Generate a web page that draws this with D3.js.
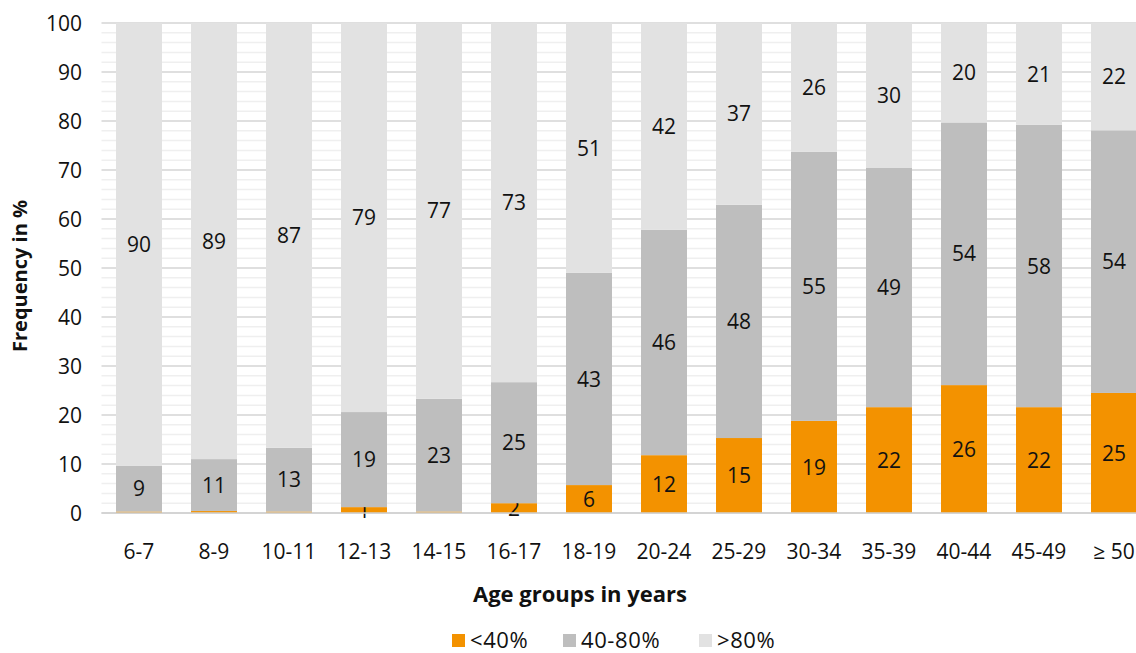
<!DOCTYPE html>
<html>
<head>
<meta charset="utf-8">
<title>Frequency by age group</title>
<script src="https://d3js.org/d3.v7.min.js"></script>
<style>
  body { margin: 0; background: #fff; }
  text { font-family: "Open Sans", "Noto Sans", sans-serif; fill: #111; }
</style>
</head>
<body>
<div id="chart"></div>
<script>
// categories (age groups)
var ageGroups = ["6-7", "8-9", "10-11", "12-13", "14-15", "16-17", "18-19",
                 "20-24", "25-29", "30-34", "35-39", "40-44", "45-49", "\u2265 50"];

// series values in %
var below40 = [0.3, 0.4, 0.3, 1.2, 0.3, 2.0, 5.7, 11.8, 15.3, 18.8, 21.6, 26.1, 21.6, 24.5];
var mid40to80 = [9.3, 10.6, 13.0, 19.4, 23.0, 24.7, 43.3, 46.0, 47.6, 54.9, 48.9, 53.6, 57.6, 53.6];
var above80 = [90.4, 89.0, 86.7, 79.4, 76.7, 73.3, 51.0, 42.2, 37.1, 26.3, 29.5, 20.3, 20.8, 21.9];

var seriesNames = ["<40%", "40-80%", ">80%"];
var seriesColors = ["#f39200", "#bebebe", "#e2e2e2"];
var yTicks = [0, 10, 20, 30, 40, 50, 60, 70, 80, 90, 100];

var width = 1136, height = 653;
var x0 = 101.5, step = 75;

var svg = d3.select("#chart").append("svg")
    .attr("width", width)
    .attr("height", height);

var x = d3.scaleBand()
    .domain(ageGroups)
    .range([x0, x0 + step * ageGroups.length])
    .paddingInner(0.387)
    .paddingOuter(0.1935);

var y = d3.scaleLinear().domain([0, 100]).range([513, 23]);

// minor gridlines every 2
svg.append("g").selectAll("line")
    .data(d3.range(2, 100, 2).filter(function(v) { return v % 10 !== 0; }))
    .enter().append("line")
    .attr("x1", x0).attr("x2", width)
    .attr("y1", function(d) { return y(d); })
    .attr("y2", function(d) { return y(d); })
    .attr("stroke", "#efefef")
    .attr("stroke-width", 1.5);

// major gridlines
svg.append("g").selectAll("line")
    .data(yTicks)
    .enter().append("line")
    .attr("x1", x0).attr("x2", width)
    .attr("y1", function(d) { return y(d); })
    .attr("y2", function(d) { return y(d); })
    .attr("stroke", "#d4d4d4")
    .attr("stroke-width", 1.5);

// stack the data
var table = ageGroups.map(function(g, i) {
    return { group: g, a: below40[i], b: mid40to80[i], c: above80[i] };
});
var stack = d3.stack().keys(["a", "b", "c"]);
var layers = stack(table);

var layerG = svg.selectAll(".layer")
    .data(layers)
    .enter().append("g")
    .attr("class", "layer")
    .attr("fill", function(d, i) { return seriesColors[i]; });

layerG.selectAll("rect")
    .data(function(d) { return d; })
    .enter().append("rect")
    .attr("x", function(d) { return x(d.data.group); })
    .attr("width", x.bandwidth())
    .attr("y", function(d) { return y(d[1]); })
    .attr("height", function(d) { return y(d[0]) - y(d[1]); });

// data labels
layerG.selectAll("text")
    .data(function(d) { return d; })
    .enter().filter(function(d) { return d[1] - d[0] >= 1; })
    .append("text")
    .attr("x", function(d) { return x(d.data.group) + x.bandwidth() / 2; })
    .attr("y", function(d) { return y((d[0] + d[1]) / 2); })
    .attr("dy", "0.36em")
    .attr("text-anchor", "middle")
    .style("font-size", "21px")
    .text(function(d) { return Math.round(d[1] - d[0]); });

// baseline
svg.append("line")
    .attr("x1", x0).attr("x2", width)
    .attr("y1", y(0)).attr("y2", y(0))
    .attr("stroke", "#d0d0d0")
    .attr("stroke-width", 1.5);

// y tick labels
svg.append("g").selectAll("text")
    .data(yTicks)
    .enter().append("text")
    .attr("x", 82)
    .attr("y", function(d) { return y(d); })
    .attr("dy", "0.36em")
    .attr("text-anchor", "end")
    .style("font-size", "21px")
    .text(function(d) { return d; });

// x tick labels
svg.append("g").selectAll("text")
    .data(ageGroups)
    .enter().append("text")
    .attr("x", function(d) { return x(d) + x.bandwidth() / 2; })
    .attr("y", 551)
    .attr("dy", "0.36em")
    .attr("text-anchor", "middle")
    .style("font-size", "21px")
    .text(function(d) { return d; });

// axis titles
svg.append("text")
    .attr("transform", "translate(20,276) rotate(-90)")
    .attr("dy", "0.36em")
    .attr("text-anchor", "middle")
    .style("font-size", "20px")
    .style("font-weight", "bold")
    .text("Frequency in %");

svg.append("text")
    .attr("x", 580)
    .attr("y", 594)
    .attr("dy", "0.36em")
    .attr("text-anchor", "middle")
    .style("font-size", "22px")
    .style("font-weight", "bold")
    .text("Age groups in years");

// legend
var legendX = [452, 563, 699];
var legend = svg.selectAll(".legend")
    .data(seriesNames)
    .enter().append("g")
    .attr("class", "legend")
    .attr("transform", function(d, i) { return "translate(" + legendX[i] + ",634)"; });

legend.append("rect")
    .attr("width", 13).attr("height", 13)
    .attr("fill", function(d, i) { return seriesColors[i]; });

legend.append("text")
    .attr("x", 18)
    .attr("y", 6.5)
    .attr("dy", "0.36em")
    .style("font-size", "22px")
    .style("letter-spacing", "0.6px")
    .text(function(d) { return d; });
</script>
</body>
</html>
